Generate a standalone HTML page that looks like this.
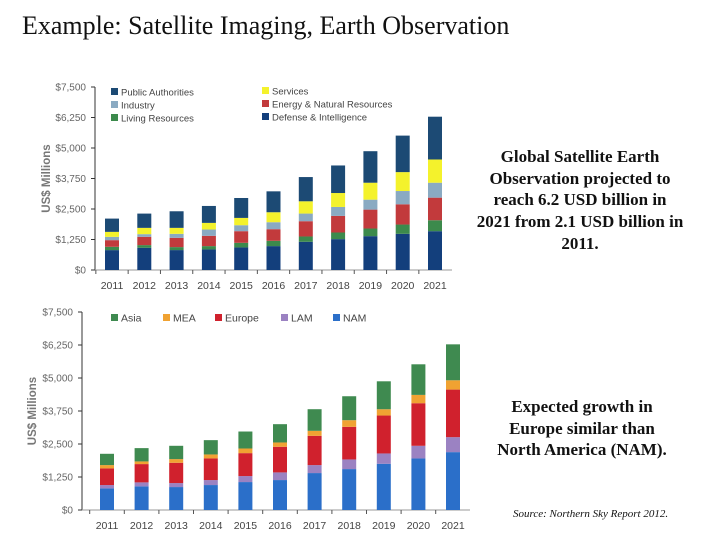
<!DOCTYPE html>
<html><head><meta charset="utf-8"><style>
body{margin:0;width:720px;height:540px;background:#fff;overflow:hidden;font-family:"Liberation Sans",sans-serif}
.t{position:absolute;font-family:"Liberation Serif",serif;color:#111}
</style></head><body>
<div class="t" style="left:22px;top:11px;font-size:26px">Example: Satellite Imaging, Earth Observation</div>
<div class="t" style="left:452px;top:146px;width:256px;text-align:center;font-size:17px;font-weight:bold;line-height:21.7px;white-space:nowrap">Global Satellite Earth<br>Observation projected to<br>reach 6.2 USD billion in<br>2021 from 2.1 USD billion in<br>2011.</div>
<div class="t" style="left:467px;top:396px;width:230px;text-align:center;font-size:17px;font-weight:bold;line-height:21.5px;white-space:nowrap">Expected growth in<br>Europe similar than<br>North America (NAM).</div>
<div class="t" style="left:513px;top:508px;font-size:11px;font-style:italic">Source: Northern Sky Report 2012.</div>
<svg id="c" width="720" height="540" style="position:absolute;left:0;top:0"></svg>
<script>
const years=["2011","2012","2013","2014","2015","2016","2017","2018","2019","2020","2021"];
const ticks=[0,1250,2500,3750,5000,6250,7500];
const tickLabels=["$0","$1,250","$2,500","$3,750","$5,000","$6,250","$7,500"];
const topNames=["Defense & Intelligence","Living Resources","Energy & Natural Resources","Industry","Services","Public Authorities"];
const defense=[815,911,816,843,925,979,1156,1265,1387,1482,1591];
const living=[136,109,122,136,190,218,218,272,313,381,449];
const energy=[272,340,381,422,476,476,626,680,775,830,925];
const industry=[136,109,163,258,245,286,313,367,408,544,612];
const services=[204,258,245,272,299,408,503,571,694,775,952];
const publicAuth=[544,585,680,694,816,857,993,1129,1292,1496,1754];
const botNames=["NAM","LAM","Europe","MEA","Asia"];
const nam=[819,895,869,945,1058,1134,1399,1550,1751,1953,2192];
const lam=[126,151,151,189,227,290,302,365,391,479,567];
const europe=[630,693,769,819,869,970,1109,1235,1436,1613,1802];
const mea=[126,101,139,151,176,164,189,252,239,315,353];
const asia=[428,504,504,542,643,693,819,907,1058,1159,1361];

const NS="http://www.w3.org/2000/svg";
const svg=document.getElementById('c');
function mk(tag,a,parent){const e=document.createElementNS(NS,tag);for(const k in a)e.setAttribute(k,a[k]);(parent||svg).appendChild(e);return e;}

function chart(cfg){
  const y=v=>cfg.y0-v*(cfg.y0-cfg.y1)/7500;
  const x=i=>cfg.x0+i*cfg.dx;
  const g=mk('g',{});
  
  
  const ax=mk('line',{x1:cfg.ax,y1:y(7500),x2:cfg.ax,y2:y(0),stroke:'#333','stroke-width':1},g);
  
  
  const bl=mk('line',{x1:cfg.ax-3,y1:y(0),x2:cfg.xEnd,y2:y(0),stroke:'#999','stroke-width':1},g);
  
  
  ticks.forEach((t,i)=>{
    mk('line',{x1:cfg.ax-4,y1:y(t),x2:cfg.ax,y2:y(t),stroke:'#333'},g);
    const tx=mk('text',{x:cfg.ax-9,y:y(t)+3.5,'text-anchor':'end','font-size':10,fill:'#666'},g);
    tx.textContent=tickLabels[i];
    
    
  });
  const yt=mk('text',{x:0,y:0,transform:`translate(${cfg.ytx},${(y(0)+y(7500))/2}) rotate(-90)`,'text-anchor':'middle','font-size':11.5,'font-weight':'bold',fill:'#777'},g);
  yt.textContent='US$ Millions';
  
  
  years.forEach((yr,i)=>{
    mk('line',{x1:x(i)-cfg.dx/2,y1:y(0),x2:x(i)-cfg.dx/2,y2:y(0)+4,stroke:'#555'},g);
    const tx=mk('text',{x:x(i),y:y(0)+19,'text-anchor':'middle','font-size':10.5,fill:'#444'},g);
    tx.textContent=yr;
    
    
    let acc=0;
    cfg.series.forEach((s,k)=>{
      const v=s[i];
      const r=mk('rect',{x:x(i)-cfg.bw/2,y:y(acc+v),width:cfg.bw,height:y(acc)-y(acc+v),fill:cfg.colors[k]},g);
      
      
      acc+=v;
    });
  });
  cfg.legend.forEach(L=>{
    mk('rect',{x:L[0],y:L[1]-4,width:7,height:7,fill:cfg.colors[L[3]]},g);
    const tx=mk('text',{x:L[0]+10,y:L[1]+3.5,'font-size':cfg.lfs,fill:'#444'},g);
    tx.textContent=L[2];
    
    
  });
}
chart({name:'top-chart',y0:270,y1:87,x0:112,dx:32.3,bw:14,ax:95,xEnd:452,ytx:50,lfs:9.5,
  series:[defense,living,energy,industry,services,publicAuth],names:topNames,
  colors:['#133f7c','#3c8a4c','#c23a3c','#8aaac2','#f4f22c','#1c4a74'],
  legend:[[111,92,'Public Authorities',5],[111,105,'Industry',3],[111,118,'Living Resources',1],[262,91,'Services',4],[262,104,'Energy & Natural Resources',2],[262,117,'Defense & Intelligence',0]]});
chart({name:'bottom-chart',y0:510,y1:312,x0:107,dx:34.6,bw:14,ax:82,xEnd:470,ytx:36,lfs:10.5,
  series:[nam,lam,europe,mea,asia],names:botNames,
  colors:['#2b6fc9','#9b82c2','#d0212d','#f0a232','#3f8a50'],
  legend:[[111,318,'Asia',4],[163,318,'MEA',3],[215,318,'Europe',2],[281,318,'LAM',1],[333,318,'NAM',0]]});
</script>
</body></html>
